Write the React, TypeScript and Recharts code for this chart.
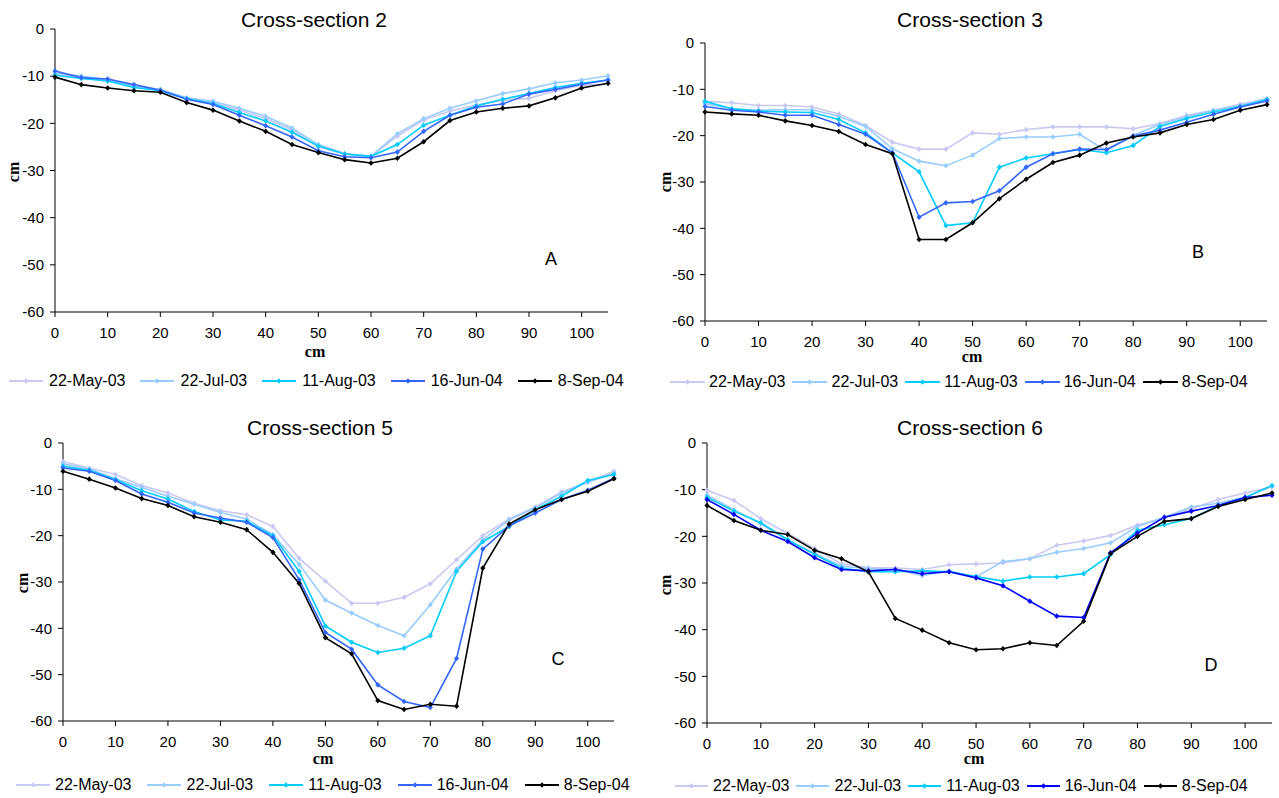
import { LineChart, Line, XAxis, YAxis } from "recharts";

// distance across the channel (cm)
const DIST = [0, 5, 10, 15, 20, 25, 30, 35, 40, 45, 50, 55, 60, 65, 70, 75, 80, 85, 90, 95, 100, 105];
const DATES = ["22-May-03", "22-Jul-03", "11-Aug-03", "16-Jun-04", "8-Sep-04"];
const X_TICKS = [0, 10, 20, 30, 40, 50, 60, 70, 80, 90, 100];
const Y_TICKS = [0, -10, -20, -30, -40, -50, -60];

// Cross-section 2
const cs2May03 = [-9.6, -10.3, -10.8, -12.1, -13.0, -14.7, -15.6, -17.2, -19.0, -21.4, -25.0, -26.5, -27.0, -22.7, -19.3, -17.4, -16.1, -15.1, -14.7, -13.1, -11.9, -11.7];
const cs2Jul03 = [-9.3, -10.0, -10.8, -12.1, -12.8, -14.6, -15.3, -16.8, -18.5, -21.0, -24.5, -26.4, -27.0, -22.2, -19.0, -16.8, -15.2, -13.7, -12.7, -11.4, -10.8, -9.9];
const cs2Aug03 = [-9.8, -10.5, -11.0, -12.4, -13.1, -14.8, -15.8, -17.7, -19.5, -21.9, -24.8, -26.5, -27.0, -24.5, -20.4, -18.3, -16.3, -14.9, -13.7, -12.4, -11.5, -10.8];
const cs2Jun04 = [-8.9, -10.3, -10.6, -11.8, -13.0, -14.9, -16.0, -18.3, -20.5, -22.9, -25.8, -27.1, -27.3, -26.1, -21.7, -18.3, -16.6, -15.9, -13.8, -12.8, -11.7, -10.8];
const cs2Sep04 = [-10.2, -11.8, -12.5, -13.1, -13.4, -15.6, -17.2, -19.5, -21.7, -24.5, -26.2, -27.7, -28.4, -27.4, -23.9, -19.4, -17.6, -16.8, -16.3, -14.6, -12.5, -11.5];

// Cross-section 3
const cs3May03 = [-12.6, -12.9, -13.5, -13.5, -13.8, -15.3, -17.8, -21.4, -22.9, -22.9, -19.4, -19.7, -18.7, -18.1, -18.1, -18.1, -18.5, -17.4, -15.6, -14.5, -13.2, -12.0];
const cs3Jul03 = [-13.1, -14.2, -14.5, -14.4, -14.4, -15.8, -18.0, -22.8, -25.5, -26.5, -24.2, -20.6, -20.3, -20.3, -19.7, -23.3, -19.9, -17.6, -16.0, -14.5, -13.5, -12.2];
const cs3Aug03 = [-12.6, -14.2, -14.7, -14.9, -15.0, -16.5, -19.4, -23.7, -27.8, -39.4, -38.8, -26.8, -24.8, -23.9, -23.0, -23.7, -22.1, -18.0, -16.3, -14.9, -13.7, -12.2];
const cs3Jun04 = [-13.7, -14.5, -14.9, -15.6, -15.6, -17.6, -19.7, -23.7, -37.6, -34.5, -34.2, -31.9, -26.8, -23.9, -22.9, -23.0, -20.1, -18.8, -17.1, -15.4, -13.8, -12.5];
const cs3Sep04 = [-14.9, -15.3, -15.6, -16.8, -17.8, -19.1, -21.9, -23.9, -42.4, -42.4, -38.8, -33.6, -29.4, -25.8, -24.2, -21.6, -20.3, -19.4, -17.6, -16.5, -14.5, -13.3];

// Cross-section 5
const cs5May03 = [-4.0, -5.4, -6.8, -9.2, -10.8, -13.0, -14.6, -15.5, -18.0, -24.9, -29.8, -34.6, -34.6, -33.3, -30.4, -25.2, -20.0, -16.4, -13.8, -10.6, -8.3, -6.1];
const cs5Jul03 = [-4.5, -5.6, -7.7, -9.6, -11.5, -13.2, -15.0, -16.4, -19.8, -26.2, -33.9, -36.7, -39.4, -41.6, -34.9, -27.2, -20.9, -16.6, -14.0, -10.8, -8.5, -6.5];
const cs5Aug03 = [-5.0, -5.9, -7.9, -10.3, -12.1, -14.8, -16.6, -16.9, -20.0, -27.7, -39.5, -43.0, -45.2, -44.3, -41.6, -27.7, -21.3, -18.0, -14.4, -11.5, -8.1, -6.8];
const cs5Jun04 = [-5.4, -6.1, -8.1, -11.0, -12.8, -15.1, -16.2, -17.1, -20.4, -29.5, -40.9, -44.5, -52.2, -55.8, -57.1, -46.5, -22.9, -17.9, -15.1, -12.2, -10.2, -7.6];
const cs5Sep04 = [-6.1, -7.8, -9.7, -12.0, -13.5, -15.9, -17.1, -18.7, -23.6, -30.3, -42.0, -45.5, -55.6, -57.5, -56.4, -56.8, -27.0, -17.5, -14.4, -12.2, -10.4, -7.7];

// Cross-section 6
const cs6May03 = [-10.1, -12.3, -16.2, -19.4, -22.6, -25.9, -26.7, -26.8, -27.1, -26.1, -25.9, -25.7, -24.8, -21.9, -21.0, -19.8, -17.6, -16.0, -14.1, -12.1, -10.7, -9.4];
const cs6Jul03 = [-11.2, -14.3, -17.3, -20.9, -23.6, -26.4, -26.9, -27.1, -28.4, -27.4, -28.7, -25.4, -24.8, -23.4, -22.6, -21.4, -17.9, -15.9, -13.7, -12.9, -11.6, -9.3];
const cs6Aug03 = [-11.6, -14.6, -17.1, -20.7, -23.9, -26.8, -27.6, -27.6, -27.4, -27.6, -28.6, -29.6, -28.7, -28.7, -28.0, -23.9, -18.7, -17.5, -16.2, -13.4, -11.7, -9.1];
const cs6Jun04 = [-12.1, -15.3, -18.7, -21.1, -24.6, -27.1, -27.4, -27.1, -28.0, -27.6, -28.9, -30.6, -33.9, -37.1, -37.4, -23.5, -19.3, -15.9, -14.6, -13.4, -11.7, -11.2];
const cs6Sep04 = [-13.4, -16.6, -18.7, -19.6, -23.0, -24.8, -27.6, -37.6, -40.1, -42.8, -44.3, -44.1, -42.8, -43.4, -38.2, -23.7, -20.0, -16.8, -16.2, -13.6, -12.1, -10.7];

const FONT = '"Liberation Sans", Arial, sans-serif';
const SERIF = '"Liberation Serif", "Times New Roman", serif';
const KEYS = ["may03", "jul03", "aug03", "jun04", "sep04"];
const COLORS = ["#C9C9F2", "#99CCFF", "#00CCFF", "#3366FF", "#000000"];
const COLORS_D = ["#C9C9F2", "#99CCFF", "#00CCFF", "#0000FF", "#000000"];

function buildRows(cols: number[][]) {
  return DIST.map((d, i) => {
    const row: Record<string, number> = { d };
    KEYS.forEach((k, j) => (row[k] = cols[j][i]));
    return row;
  });
}

function Diamond(props: any) {
  const { cx, cy, stroke, index } = props;
  if (cx == null || cy == null) return null;
  return (
    <path
      key={index}
      d={`M${cx} ${cy - 2.8}L${cx + 2.6} ${cy}L${cx} ${cy + 2.8}L${cx - 2.6} ${cy}Z`}
      fill={stroke}
      stroke="none"
    />
  );
}

type LegendLayout = { x: number; y: number; line: number; gap: number; item: number };

function Legend({ colors, lay }: { colors: string[]; lay: LegendLayout }) {
  const m = lay.line / 2;
  return (
    <div
      style={{
        position: "absolute",
        left: lay.x,
        top: lay.y,
        transform: "translateY(-50%)",
        display: "flex",
        alignItems: "center",
        fontFamily: FONT,
        fontSize: 16,
        color: "#000",
        whiteSpace: "nowrap",
      }}
    >
      {DATES.map((name, i) => (
        <div key={name} style={{ display: "flex", alignItems: "center", marginRight: i < DATES.length - 1 ? lay.item : 0 }}>
          <svg width={lay.line} height={10}>
            <line x1={0} y1={5} x2={lay.line} y2={5} stroke={colors[i]} strokeWidth={2} />
            <path d={`M${m} 2.2L${m + 2.6} 5L${m} 7.8L${m - 2.6} 5Z`} fill={colors[i]} />
          </svg>
          <span style={{ marginLeft: lay.gap }}>{name}</span>
        </div>
      ))}
    </div>
  );
}

type Geo = { l: number; r: number; t: number; b: number };

function Panel(p: {
  left: number;
  top: number;
  w: number;
  title: string;
  letter: string;
  cols: number[][];
  colors: string[];
  geo: Geo;
  titleX: number;
  titleY: number;
  letterX: number;
  letterY: number;
  xlabX: number;
  xlabY: number;
  ylabX: number;
  ylabY: number;
  legend: LegendLayout;
}) {
  const H = 400;
  const rows = buildRows(p.cols);
  const centered = (x: number, y: number): React.CSSProperties => ({
    position: "absolute",
    left: x,
    top: y,
    transform: "translate(-50%, -50%)",
    whiteSpace: "nowrap",
    lineHeight: 1,
  });
  return (
    <div style={{ position: "absolute", left: p.left, top: p.top, width: p.w, height: H }}>
      <LineChart
        width={p.w}
        height={H}
        data={rows}
        margin={{ top: p.geo.t, right: p.w - p.geo.r, left: 0, bottom: H - p.geo.b - 30 }}
      >
        <XAxis
          dataKey="d"
          type="number"
          domain={[0, 105]}
          ticks={X_TICKS}
          height={30}
          stroke="#000"
          tickSize={5}
          tickMargin={10}
          tick={{ fill: "#000", fontFamily: FONT, fontSize: 15 }}
        />
        <YAxis
          type="number"
          domain={[-60, 0]}
          ticks={Y_TICKS}
          width={p.geo.l}
          stroke="#000"
          tickSize={5}
          tickMargin={6}
          interval={0}
          tick={{ fill: "#000", fontFamily: FONT, fontSize: 15 }}
        />
        {KEYS.map((k, i) => (
          <Line
            key={k}
            dataKey={k}
            name={DATES[i]}
            type="linear"
            stroke={p.colors[i]}
            strokeWidth={1.6}
            dot={Diamond}
            activeDot={false}
            isAnimationActive={false}
          />
        ))}
      </LineChart>
      <div style={{ ...centered(p.titleX, p.titleY), fontFamily: FONT, fontSize: 21 }}>{p.title}</div>
      <div style={{ ...centered(p.letterX, p.letterY), fontFamily: FONT, fontSize: 18 }}>{p.letter}</div>
      <div style={{ ...centered(p.xlabX, p.xlabY), fontFamily: SERIF, fontWeight: "bold", fontSize: 16 }}>cm</div>
      <div
        style={{
          ...centered(p.ylabX, p.ylabY),
          transform: "translate(-50%, -50%) rotate(-90deg)",
          fontFamily: SERIF,
          fontWeight: "bold",
          fontSize: 16,
        }}
      >
        cm
      </div>
      <Legend colors={p.colors} lay={p.legend} />
    </div>
  );
}

export default function App() {
  return (
    <div style={{ position: "absolute", left: 0, top: 0, width: 1279, height: 798, background: "#fff", overflow: "hidden" }}>
      <Panel
        left={0} top={0} w={640}
        title="Cross-section 2" letter="A"
        cols={[cs2May03, cs2Jul03, cs2Aug03, cs2Jun04, cs2Sep04]}
        colors={COLORS}
        geo={{ l: 55, r: 608, t: 29, b: 312 }}
        titleX={314} titleY={19} letterX={551} letterY={259}
        xlabX={315} xlabY={352} ylabX={14} ylabY={172}
        legend={{ x: 9, y: 381, line: 34, gap: 6, item: 15 }}
      />
      <Panel
        left={640} top={0} w={639}
        title="Cross-section 3" letter="B"
        cols={[cs3May03, cs3Jul03, cs3Aug03, cs3Jun04, cs3Sep04]}
        colors={COLORS}
        geo={{ l: 65, r: 627, t: 43, b: 321 }}
        titleX={330} titleY={19} letterX={558} letterY={252}
        xlabX={332} xlabY={357} ylabX={26} ylabY={182}
        legend={{ x: 30, y: 382, line: 35, gap: 4, item: 7 }}
      />
      <Panel
        left={0} top={400} w={640}
        title="Cross-section 5" letter="C"
        cols={[cs5May03, cs5Jul03, cs5Aug03, cs5Jun04, cs5Sep04]}
        colors={COLORS}
        geo={{ l: 63, r: 614, t: 43, b: 321 }}
        titleX={320} titleY={27} letterX={558} letterY={259}
        xlabX={323} xlabY={359} ylabX={23} ylabY={183}
        legend={{ x: 16, y: 385, line: 34, gap: 5, item: 16 }}
      />
      <Panel
        left={640} top={400} w={639}
        title="Cross-section 6" letter="D"
        cols={[cs6May03, cs6Jul03, cs6Aug03, cs6Jun04, cs6Sep04]}
        colors={COLORS_D}
        geo={{ l: 67, r: 632, t: 43, b: 323 }}
        titleX={330} titleY={27} letterX={571} letterY={265}
        xlabX={334} xlabY={359} ylabX={26} ylabY={185}
        legend={{ x: 35, y: 386, line: 33, gap: 5, item: 7 }}
      />
    </div>
  );
}
